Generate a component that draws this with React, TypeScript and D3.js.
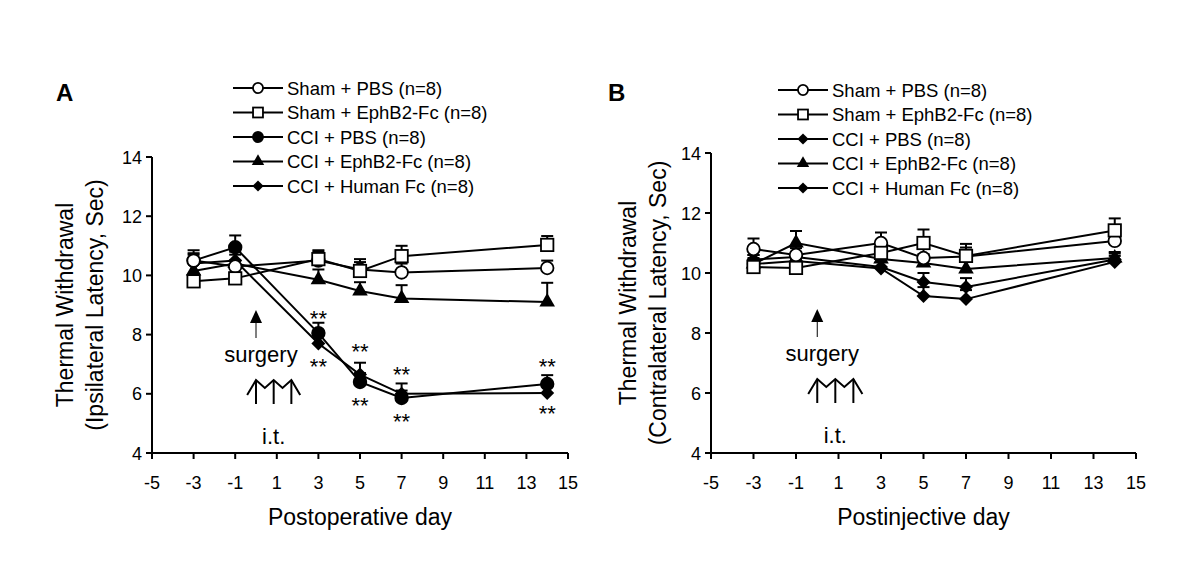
import React from 'react'
import * as d3 from 'd3'

// days measured
const days = [-3, -1, 3, 5, 7, 14]
const xTicks = [-5, -3, -1, 1, 3, 5, 7, 9, 11, 13, 15]
const yTicks = [4, 6, 8, 10, 12, 14]

type Shape = 'circle' | 'square' | 'dot' | 'triangle' | 'diamond'

interface Series {
  name: string
  shape: Shape
  values: number[]
  errors: number[]
}

// Panel A - ipsilateral
const aShamPbs = [10.5, 10.3, 10.5, 10.2, 10.1, 10.25]
const aShamPbsErr = [0.25, 0.2, 0.3, 0.35, 0.3, 0.25]
const aShamEph = [9.8, 9.9, 10.55, 10.15, 10.65, 11.03]
const aShamEphErr = [0.2, 0.2, 0.3, 0.3, 0.35, 0.3]
const aCciPbs = [10.5, 10.95, 8.05, 6.4, 5.86, 6.33]
const aCciPbsErr = [0.35, 0.4, 0.35, 0.3, 0.25, 0.3]
const aCciEph = [10.15, 10.4, 9.85, 9.47, 9.22, 9.1]
const aCciEphErr = [0.3, 0.3, 0.35, 0.3, 0.45, 0.65]
const aCciHfc = [10.4, 10.5, 7.7, 6.65, 6.0, 6.03]
const aCciHfcErr = [0.3, 0.3, 0.3, 0.4, 0.35, 0.3]

// Panel B - contralateral
const bShamPbs = [10.8, 10.6, 11.0, 10.5, 10.55, 11.07]
const bShamPbsErr = [0.35, 0.3, 0.35, 0.3, 0.3, 0.3]
const bShamEph = [10.2, 10.17, 10.67, 11.0, 10.57, 11.42]
const bShamEphErr = [0.3, 0.3, 0.3, 0.45, 0.4, 0.4]
const bCciPbs = [10.3, 10.4, 10.15, 9.23, 9.13, 10.37]
const bCciPbsErr = [0.3, 0.3, 0.3, 0.3, 0.3, 0.2]
const bCciEph = [10.3, 11.0, 10.47, 10.33, 10.13, 10.5]
const bCciEphErr = [0.3, 0.4, 0.3, 0.3, 0.3, 0.2]
const bCciHfc = [10.45, 10.53, 10.2, 9.7, 9.53, 10.45]
const bCciHfcErr = [0.3, 0.3, 0.3, 0.3, 0.3, 0.2]

const legendA = [
  'Sham + PBS (n=8)',
  'Sham + EphB2-Fc (n=8)',
  'CCI + PBS (n=8)',
  'CCI + EphB2-Fc (n=8)',
  'CCI + Human Fc (n=8)',
]
const legendShapesA: Shape[] = ['circle', 'square', 'dot', 'triangle', 'diamond']
const legendShapesB: Shape[] = ['circle', 'square', 'diamond', 'triangle', 'diamond']

// significance marks for panel A: [day, value at text centre]
const starsA: [number, number][] = [
  [3, 8.66], [3, 7.04], [5, 7.55], [5, 5.72],
  [7, 6.77], [7, 5.18], [14, 7.04], [14, 5.45],
]

// surgery / i.t. injection days
const surgeryDay = 0
const injectionDays = [0, 0.85, 1.7]

const seriesA: Series[] = [
  { name: legendA[2], shape: 'dot', values: aCciPbs, errors: aCciPbsErr },
  { name: legendA[4], shape: 'diamond', values: aCciHfc, errors: aCciHfcErr },
  { name: legendA[3], shape: 'triangle', values: aCciEph, errors: aCciEphErr },
  { name: legendA[0], shape: 'circle', values: aShamPbs, errors: aShamPbsErr },
  { name: legendA[1], shape: 'square', values: aShamEph, errors: aShamEphErr },
]
const seriesB: Series[] = [
  { name: legendA[2], shape: 'diamond', values: bCciPbs, errors: bCciPbsErr },
  { name: legendA[4], shape: 'diamond', values: bCciHfc, errors: bCciHfcErr },
  { name: legendA[3], shape: 'triangle', values: bCciEph, errors: bCciEphErr },
  { name: legendA[0], shape: 'circle', values: bShamPbs, errors: bShamPbsErr },
  { name: legendA[1], shape: 'square', values: bShamEph, errors: bShamEphErr },
]

const FONT = "'Liberation Sans', Arial, sans-serif"

const Marker: React.FC<{ shape: Shape; x: number; y: number; s?: number }> = ({ shape, x, y, s = 1 }) => {
  if (shape === 'circle' || shape === 'dot') {
    return (
      <circle cx={x} cy={y} r={6.3 * s} fill={shape === 'dot' ? '#000' : '#fff'} stroke="#000" strokeWidth={1.8} />
    )
  }
  if (shape === 'square') {
    const h = 6.2 * s
    return <rect x={x - h} y={y - h} width={2 * h} height={2 * h} fill="#fff" stroke="#000" strokeWidth={1.8} />
  }
  if (shape === 'diamond') {
    const h = 7 * s
    return <path d={`M${x},${y - h} L${x + h},${y} L${x},${y + h} L${x - h},${y} Z`} fill="#000" />
  }
  const sym = d3.symbol().type(d3.symbolTriangle).size(105 * s * s)
  return <path d={sym() || ''} transform={`translate(${x},${y})`} fill="#000" />
}

interface PanelProps {
  letter: string
  series: Series[]
  legendShapes: Shape[]
  x0: number
  x1: number
  yTop: number
  yBot: number
  legendX: number
  legendY: number
  yLabel2: string
  yLabelX: number
  xLabel: string
  stars?: [number, number][]
  surgeryTop: number
}

const Panel: React.FC<PanelProps> = (p) => {
  const x = d3.scaleLinear().domain([-5, 15]).range([p.x0, p.x1])
  const y = d3.scaleLinear().domain([4, 14]).range([p.yBot, p.yTop])
  const line = d3
    .line<number>()
    .x((_, i) => x(days[i]))
    .y((d) => y(d))

  const sx = x(surgeryDay)
  const itTop = p.surgeryTop + 70
  const itBot = itTop + 24
  const ix = injectionDays.map((d) => x(d))
  const half = (ix[1] - ix[0]) / 2

  return (
    <g fontFamily={FONT}>
      <text x={p.letter === 'A' ? 56 : 608} y={101} fontSize={24} fontWeight="bold">
        {p.letter}
      </text>

      {/* legend */}
      {p.legendShapes.map((sh, i) => {
        const ly = p.legendY + i * 24.5
        return (
          <g key={i}>
            <line x1={p.legendX} x2={p.legendX + 50} y1={ly} y2={ly} stroke="#000" strokeWidth={2} />
            <Marker shape={sh} x={p.legendX + 25} y={ly} s={0.8} />
            <text x={p.legendX + 54} y={ly + 6.5} fontSize={18.5}>
              {legendA[i]}
            </text>
          </g>
        )
      })}

      {/* axes */}
      <line x1={p.x0} x2={p.x0} y1={p.yTop} y2={p.yBot} stroke="#000" strokeWidth={2} />
      <line x1={p.x0 - 6} x2={p.x1} y1={p.yBot} y2={p.yBot} stroke="#000" strokeWidth={2} />
      {yTicks.map((t) => (
        <g key={t}>
          <line x1={p.x0 - 6} x2={p.x0} y1={y(t)} y2={y(t)} stroke="#000" strokeWidth={2} />
          <text x={p.x0 - 10} y={y(t) + 6.5} fontSize={18} textAnchor="end">
            {t}
          </text>
        </g>
      ))}
      {xTicks.map((t) => (
        <g key={t}>
          <line x1={x(t)} x2={x(t)} y1={p.yBot} y2={p.yBot + 6} stroke="#000" strokeWidth={2} />
          <text x={x(t)} y={489} fontSize={18} textAnchor="middle">
            {t}
          </text>
        </g>
      ))}
      <text x={(p.x0 + p.x1) / 2} y={525} fontSize={23} textAnchor="middle">
        {p.xLabel}
      </text>
      <text
        transform={`translate(${p.yLabelX},${(p.yTop + p.yBot) / 2}) rotate(-90)`}
        fontSize={23}
        textAnchor="middle"
      >
        <tspan x={0} y={0}>Thermal Withdrawal</tspan>
        <tspan x={0} y={30}>{p.yLabel2}</tspan>
      </text>

      {/* surgery marker */}
      <path
        d={`M${sx},${p.surgeryTop} L${sx - 6},${p.surgeryTop + 13} L${sx + 6},${p.surgeryTop + 13} Z`}
        fill="#000"
      />
      <line x1={sx} x2={sx} y1={p.surgeryTop + 12} y2={p.surgeryTop + 28} stroke="#000" strokeWidth={1} />
      <text x={sx + 5} y={p.surgeryTop + 52} fontSize={22} textAnchor="middle">
        surgery
      </text>
      <path
        d={
          `M${ix[0] - half},${itTop + 15} L${ix[0]},${itTop} L${ix[0] + half},${itTop + 8} L${ix[1]},${itTop} ` +
          `L${ix[1] + half},${itTop + 8} L${ix[2]},${itTop} L${ix[2] + half},${itTop + 15}`
        }
        fill="none"
        stroke="#000"
        strokeWidth={2}
      />
      {ix.map((v, i) => (
        <line key={i} x1={v} x2={v} y1={itTop} y2={itBot} stroke="#000" strokeWidth={2} />
      ))}
      <text x={ix[1]} y={itBot + 40} fontSize={22} textAnchor="middle">
        i.t.
      </text>

      {/* data */}
      {p.series.map((s, k) => (
        <path key={k} d={line(s.values) || ''} fill="none" stroke="#000" strokeWidth={2} />
      ))}
      {p.series.map((s, k) => (
        <g key={k}>
          {s.values.map((v, i) => (
            <g key={i}>
              <line x1={x(days[i])} x2={x(days[i])} y1={y(v)} y2={y(v + s.errors[i])} stroke="#000" strokeWidth={2} />
              <line
                x1={x(days[i]) - 6}
                x2={x(days[i]) + 6}
                y1={y(v + s.errors[i])}
                y2={y(v + s.errors[i])}
                stroke="#000"
                strokeWidth={2}
              />
            </g>
          ))}
        </g>
      ))}
      {p.series.map((s, k) => (
        <g key={k}>
          {s.values.map((v, i) => (
            <Marker key={i} shape={s.shape} x={x(days[i])} y={y(v)} />
          ))}
        </g>
      ))}
      {(p.stars || []).map(([d, v], i) => (
        <text key={i} x={x(d)} y={y(v) + 11} fontSize={22} textAnchor="middle">
          **
        </text>
      ))}
    </g>
  )
}

export default function App() {
  return (
    <svg
      width={1200}
      height={582}
      style={{ position: 'absolute', left: 0, top: 0, background: '#fff' }}
    >
      <rect width={1200} height={582} fill="#fff" />
      <Panel
        letter="A"
        series={seriesA}
        legendShapes={legendShapesA}
        x0={152}
        x1={568}
        yTop={157}
        yBot={453}
        legendX={233}
        legendY={88}
        yLabel2="(Ipsilateral Latency, Sec)"
        yLabelX={73}
        xLabel="Postoperative day"
        stars={starsA}
        surgeryTop={310}
      />
      <Panel
        letter="B"
        series={seriesB}
        legendShapes={legendShapesB}
        x0={711}
        x1={1136}
        yTop={153}
        yBot={453}
        legendX={778}
        legendY={90}
        yLabel2="(Contralateral Latency, Sec)"
        yLabelX={636}
        xLabel="Postinjective day"
        surgeryTop={309}
      />
    </svg>
  )
}
